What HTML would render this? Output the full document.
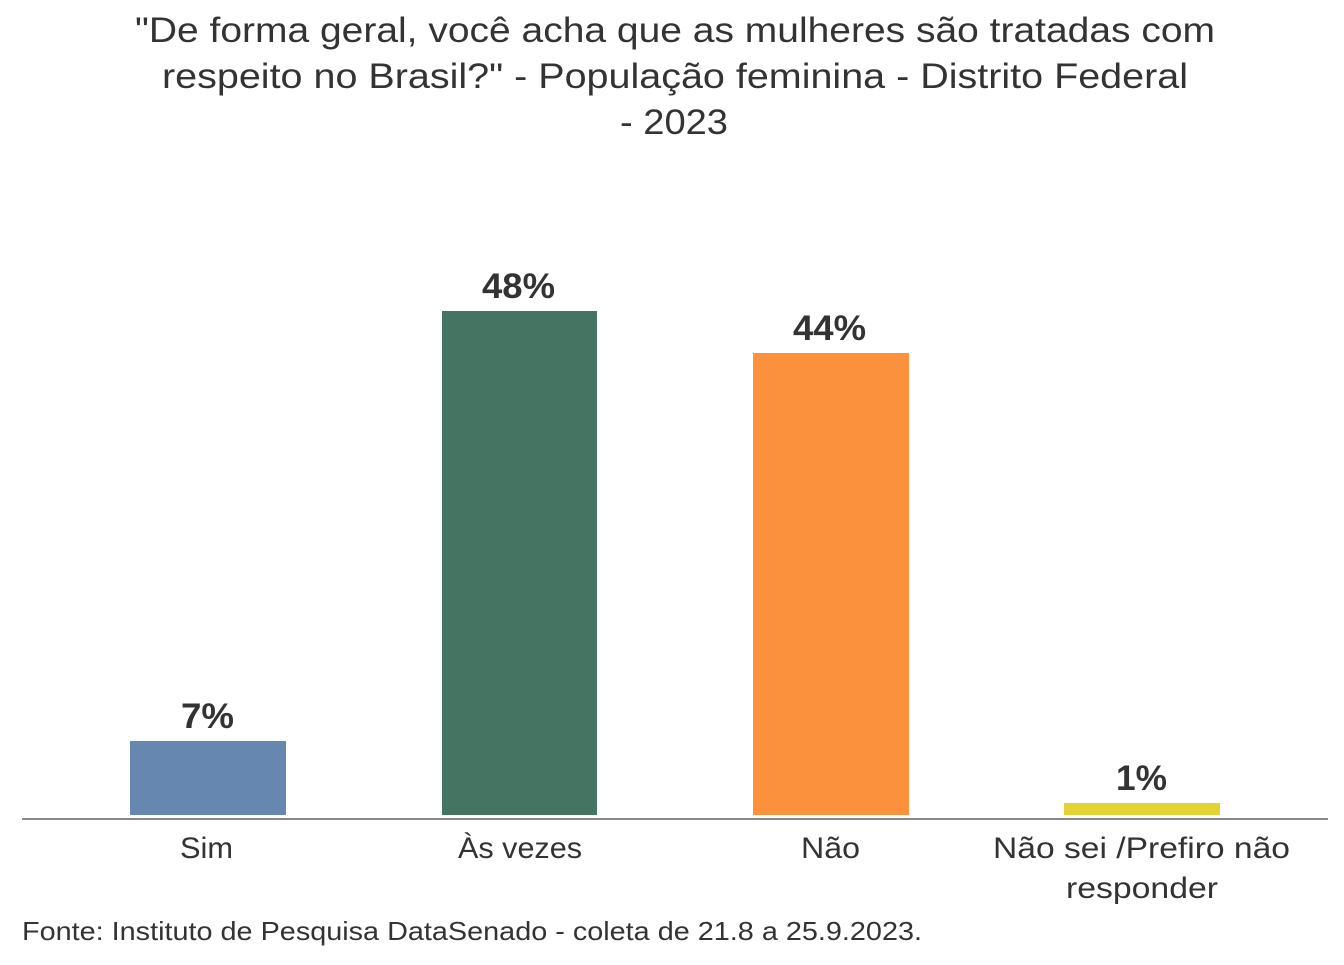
<!DOCTYPE html>
<html><head><meta charset="utf-8"><style>
body{margin:0;background:#fff;}
svg text{font-family:"Liberation Sans",sans-serif;}
</style></head><body>
<svg width="1344" height="960" xmlns="http://www.w3.org/2000/svg">
<g fill="#333" font-size="35">
<text x="135" y="42" textLength="1080" lengthAdjust="spacingAndGlyphs">"De forma geral, você acha que as mulheres são tratadas com</text>
<text x="162" y="88" textLength="1026" lengthAdjust="spacingAndGlyphs">respeito no Brasil?" - População feminina - Distrito Federal</text>
<text x="620" y="134" textLength="108" lengthAdjust="spacingAndGlyphs">- 2023</text>
</g>
<rect x="130" y="741" width="156" height="74" fill="#6688b0"/>
<rect x="442" y="311" width="155" height="504" fill="#447563"/>
<rect x="753" y="353" width="156" height="462" fill="#fb913d"/>
<rect x="1064" y="803" width="156" height="12" fill="#e3d431"/>
<line x1="22" y1="819" x2="1328" y2="819" stroke="#888" stroke-width="2"/>
<g fill="#333" font-size="35" font-weight="bold">
<text x="181" y="728" textLength="53" lengthAdjust="spacingAndGlyphs">7%</text>
<text x="482" y="298" textLength="73" lengthAdjust="spacingAndGlyphs">48%</text>
<text x="793" y="340" textLength="73" lengthAdjust="spacingAndGlyphs">44%</text>
<text x="1116" y="790" textLength="51" lengthAdjust="spacingAndGlyphs">1%</text>
</g>
<g fill="#333" font-size="30">
<text x="180" y="858" textLength="53" lengthAdjust="spacingAndGlyphs">Sim</text>
<text x="458" y="858" textLength="124" lengthAdjust="spacingAndGlyphs">Às vezes</text>
<text x="801" y="858" textLength="59" lengthAdjust="spacingAndGlyphs">Não</text>
<text x="993" y="858" textLength="297" lengthAdjust="spacingAndGlyphs">Não sei /Prefiro não</text>
<text x="1066" y="898" textLength="152" lengthAdjust="spacingAndGlyphs">responder</text>
</g>
<text x="22" y="940" fill="#333" font-size="26" textLength="900" lengthAdjust="spacingAndGlyphs">Fonte: Instituto de Pesquisa DataSenado - coleta de 21.8 a 25.9.2023.</text>
</svg>
</body></html>
